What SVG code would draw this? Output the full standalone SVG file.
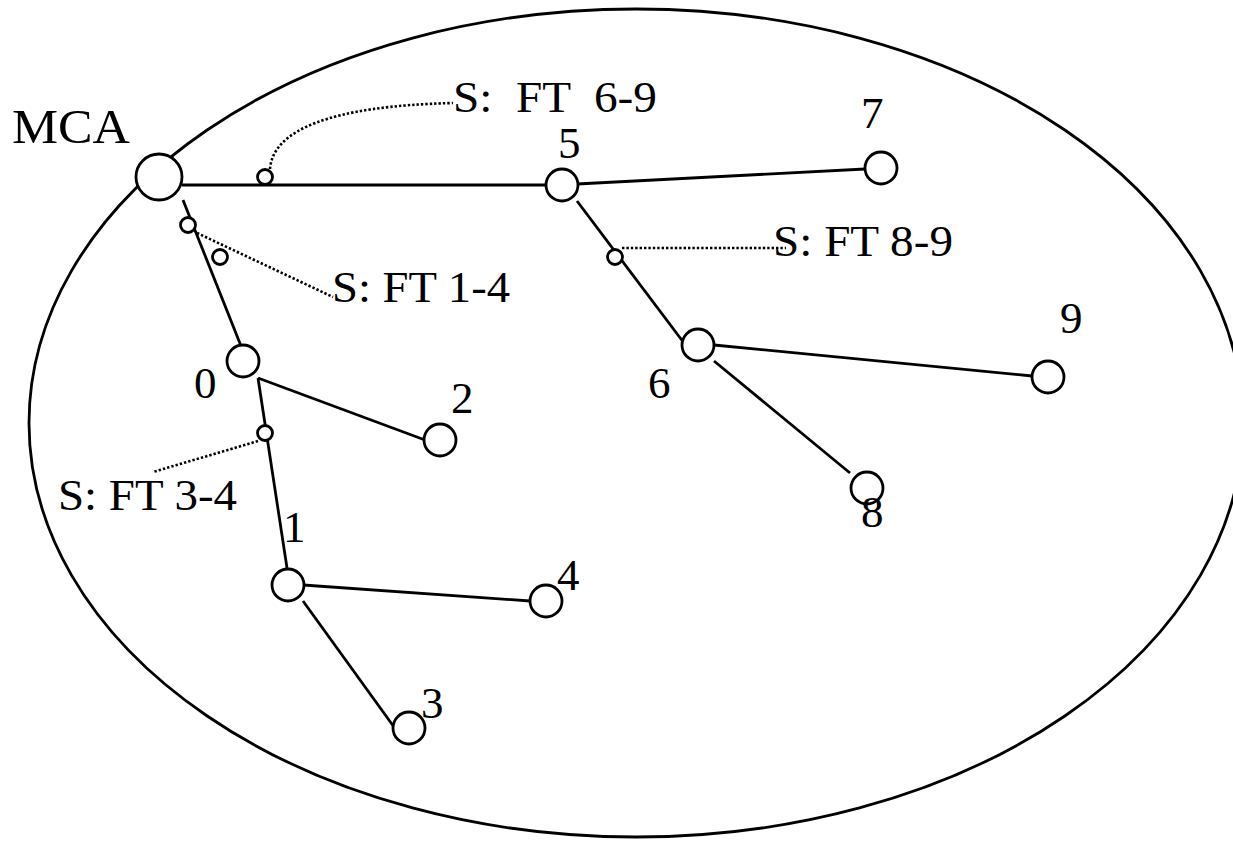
<svg xmlns="http://www.w3.org/2000/svg" width="1233" height="841" viewBox="0 0 1233 841">
  <style>
    .edge { stroke: #000; stroke-width: 2.8; fill: none; }
    .dot { stroke: #000; stroke-width: 2.6; fill: none; stroke-dasharray: 2.4 2; }
    .node { stroke: #000; stroke-width: 2.8; fill: #fff; }
    text { font-family: "Liberation Serif", "DejaVu Serif", "Times New Roman", serif; fill: #000; }
    .lbl { font-size: 45px; }
    .s { font-size: 44px; white-space: pre; }
  </style>
  <rect x="0" y="0" width="1233" height="841" fill="#fff"/>
  <g id="boundary">
    <ellipse cx="636" cy="423" rx="607" ry="414" class="edge"/>
  </g>
  <g id="connectors">
    <line class="edge" x1="182" y1="185" x2="546" y2="185"/>
    <line class="edge" x1="183" y1="200" x2="241" y2="346"/>
    <line class="edge" x1="577" y1="184" x2="865" y2="169"/>
    <line class="edge" x1="577" y1="201" x2="684" y2="343"/>
    <line class="edge" x1="714" y1="345" x2="1032" y2="376"/>
    <line class="edge" x1="714" y1="361" x2="850" y2="473"/>
    <line class="edge" x1="258" y1="378" x2="425" y2="440"/>
    <line class="edge" x1="258" y1="378" x2="287" y2="568"/>
    <line class="edge" x1="303" y1="585" x2="530" y2="601"/>
    <line class="edge" x1="303" y1="601" x2="394" y2="727"/>
    <path class="dot" d="M 270 169 C 273 130, 330 106, 453 103"/>
    <line class="dot" x1="622" y1="248" x2="786" y2="248"/>
    <line class="dot" x1="197" y1="233" x2="333" y2="297"/>
    <line class="dot" x1="258" y1="441" x2="153" y2="472"/>
  </g>
  <g id="node-MCA">
    <circle class="node" cx="159" cy="177" r="23"/>
    <text x="12" y="143" font-size="48" textLength="118" lengthAdjust="spacingAndGlyphs">MCA</text>
  </g>
  <g id="node-5">
    <circle class="node" cx="562" cy="185" r="16"/>
    <text class="lbl" x="558" y="158">5</text>
  </g>
  <g id="node-7">
    <circle class="node" cx="881" cy="168" r="16"/>
    <text class="lbl" x="861" y="128">7</text>
  </g>
  <g id="node-6">
    <circle class="node" cx="698" cy="345" r="16"/>
    <text class="lbl" x="648" y="398">6</text>
  </g>
  <g id="node-9">
    <circle class="node" cx="1048" cy="377" r="16"/>
    <text class="lbl" x="1060" y="333">9</text>
  </g>
  <g id="node-8">
    <circle class="node" cx="867" cy="488" r="16"/>
    <text class="lbl" x="861" y="527">8</text>
  </g>
  <g id="node-0">
    <circle class="node" cx="243" cy="361" r="16"/>
    <text class="lbl" x="194" y="398">0</text>
  </g>
  <g id="node-2">
    <circle class="node" cx="440" cy="440" r="16"/>
    <text class="lbl" x="451" y="413">2</text>
  </g>
  <g id="node-1">
    <circle class="node" cx="288" cy="585" r="16"/>
    <text class="lbl" x="283" y="542">1</text>
  </g>
  <g id="node-4">
    <circle class="node" cx="546" cy="601" r="16"/>
    <text class="lbl" x="557" y="590">4</text>
  </g>
  <g id="node-3">
    <circle class="node" cx="409" cy="728" r="16"/>
    <text class="lbl" x="421" y="718">3</text>
  </g>
  <g id="probe-a">
    <circle class="node" cx="265" cy="177" r="7.5"/>
  </g>
  <g id="probe-b">
    <circle class="node" cx="188" cy="225" r="7.5"/>
  </g>
  <g id="probe-c">
    <circle class="node" cx="220" cy="257" r="7.5"/>
  </g>
  <g id="probe-d">
    <circle class="node" cx="615" cy="257" r="7.5"/>
  </g>
  <g id="probe-e">
    <circle class="node" cx="265" cy="433" r="7.5"/>
  </g>
  <g id="label-ft69">
    <text class="s" x="453" y="112" xml:space="preserve" textLength="204" lengthAdjust="spacingAndGlyphs">S:  FT  6-9</text>
  </g>
  <g id="label-ft89">
    <text class="s" x="773" y="256" textLength="180" lengthAdjust="spacingAndGlyphs">S: FT 8-9</text>
  </g>
  <g id="label-ft14">
    <text class="s" x="332" y="302" textLength="178" lengthAdjust="spacingAndGlyphs">S: FT 1-4</text>
  </g>
  <g id="label-ft34">
    <text class="s" x="58" y="510" textLength="179" lengthAdjust="spacingAndGlyphs">S: FT 3-4</text>
  </g>
</svg>
